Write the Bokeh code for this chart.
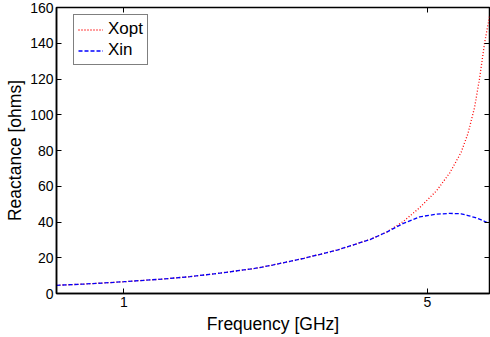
from bokeh.plotting import figure
from bokeh.models import (LogAxis, LinearAxis, FixedTicker, Legend, LegendItem,
                          ColumnDataSource, Range1d)
from bokeh.embed import file_html
from bokeh.resources import INLINE

# Data
freq_ghz = [0.7, 0.8, 0.9, 1.0, 1.2, 1.42, 1.69, 2.0, 2.2, 2.6, 3.1, 3.7, 4.04,
            4.4, 4.8, 5.25, 5.63, 5.98, 6.2, 6.42, 6.59, 6.77, 6.95]
xopt = [4.6, 5.2, 5.9, 6.6, 7.9, 9.4, 11.6, 14.0, 15.9, 19.7, 24.3, 30.3, 34.5,
        40.3, 48.0, 57.5, 67.5, 79.0, 89.5, 104.0, 120.0, 140.0, 155.0]
xin = [4.6, 5.2, 5.9, 6.6, 7.9, 9.4, 11.6, 14.0, 15.9, 19.7, 24.3, 30.3, 34.5,
       39.2, 42.9, 44.4, 44.8, 44.6, 43.6, 42.6, 41.6, 40.4, 39.2]
x_ticks = [1, 5]
x_tick_labels = {1: "1", 5: "5"}
y_ticks = [0, 20, 40, 60, 80, 100, 120, 140, 160]

FONT = "Liberation Sans"

p = figure(width=490, height=337, x_axis_type="log",
           x_range=Range1d(0.7, 6.95), y_range=Range1d(0, 160),
           output_backend="svg", toolbar_location=None,
           min_border_left=56, min_border_right=1, min_border_top=7, min_border_bottom=44)
p.grid.visible = False
p.background_fill_color = "white"
p.border_fill_color = "white"
p.outline_line_color = "black"
p.outline_line_width = 1.5

src = ColumnDataSource(dict(f=freq_ghz, xopt=xopt, xin=xin))
r1 = p.line("f", "xopt", source=src, line_color="#ff0000", line_dash="1 2", line_width=1.3)
r2 = p.line("f", "xin", source=src, line_color="#0000ff", line_dash="4 2", line_width=1.3)

xa = p.xaxis[0]
xa.ticker = FixedTicker(ticks=x_ticks, minor_ticks=[])
xa.major_label_overrides = x_tick_labels
ya = p.yaxis[0]
ya.ticker = FixedTicker(ticks=y_ticks, minor_ticks=[])

for ax in (xa, ya):
    ax.axis_line_color = "black"
    ax.axis_line_width = 1.5
    ax.major_tick_in = 5
    ax.major_tick_out = 0
    ax.minor_tick_in = 0
    ax.minor_tick_out = 0
    ax.major_label_text_font = FONT
    ax.major_label_text_font_size = "14px"
    ax.major_label_text_color = "black"
    ax.major_label_standoff = 3
    ax.axis_label_text_font = FONT
    ax.axis_label_text_font_size = "17.5px"
    ax.axis_label_text_font_style = "normal"
    ax.axis_label_text_color = "black"

xa.axis_label = "Frequency [GHz]"
xa.axis_label_standoff = 4
ya.axis_label = "Reactance [ohms]"
ya.axis_label_standoff = 2

top = LogAxis(ticker=FixedTicker(ticks=x_ticks, minor_ticks=[]))
right = LinearAxis(ticker=FixedTicker(ticks=y_ticks, minor_ticks=[]))
for ax in (top, right):
    ax.axis_line_color = None
    ax.major_tick_in = 5
    ax.major_tick_out = 0
    ax.minor_tick_in = 0
    ax.minor_tick_out = 0
    ax.major_label_text_font_size = "0px"
    ax.major_label_standoff = 0
    ax.major_label_text_color = None
p.add_layout(top, "above")
p.add_layout(right, "right")

legend = Legend(items=[LegendItem(label="Xopt", renderers=[r1]),
                       LegendItem(label="Xin", renderers=[r2])],
                location=(17, 228))
legend.label_text_font = FONT
legend.label_text_font_size = "17px"
legend.label_text_color = "black"
legend.label_height = 19
legend.glyph_height = 19
legend.glyph_width = 25
legend.label_standoff = 5
legend.padding = 4
legend.spacing = 1
legend.margin = 0
legend.border_line_color = "black"
legend.border_line_width = 1.2
legend.background_fill_color = "white"
legend.background_fill_alpha = 1
p.add_layout(legend, "center")

open("out.html", "w").write(file_html(p, INLINE))
